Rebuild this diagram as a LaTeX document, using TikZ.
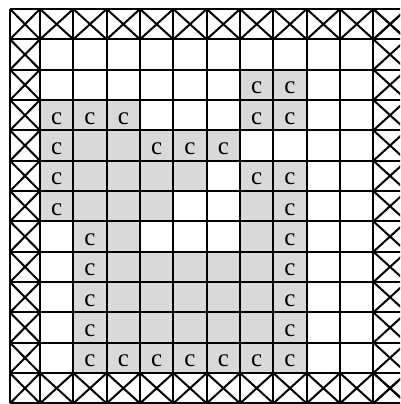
\documentclass[tikz,border=0pt]{standalone}
\usepackage{fontspec}
\setmainfont{Liberation Serif}

\tikzset{
  gitter/.style={line width=2.2pt},
  kreuz/.style={line width=2pt},
  grau/.style={fill=black!15},
  zeichen/.style={anchor=base, inner sep=0pt, font=\fontsize{25}{25}\selectfont},
}

\begin{document}
\begin{tikzpicture}[x=33.33pt, y=-30.33pt]
    \useasboundingbox (-0.2,-0.297) rectangle (11.8,13.02);
    \clip (-0.2,-0.297) rectangle (11.8,13.02);
    % graue Felder:
    \foreach \u/\v in {7/2,8/2, 1/3,2/3,3/3,7/3,8/3,
                       1/4,2/4,3/4,4/4,5/4,6/4,
                       1/5,2/5,3/5,4/5,5/5,7/5,8/5,
                       1/6,2/6,3/6,4/6,7/6,8/6,
                       2/7,3/7,7/7,8/7}
        \fill[grau] (\u,\v) rectangle ++(1,1);
    \foreach \v in {8,...,11}
        \fill[grau] (2,\v) rectangle (9,\v+1); % untere Zeilen
    % Gitterlinien:
    \foreach \u in {1,...,12}
        \draw[gitter] (\u,0) -- (\u,13);
    \draw[gitter] (0.1,0) -- (0.1,13); % linker Rand
    \foreach \v in {0,...,13}
        \draw[gitter] (0.1,\v) -- (12,\v);
    % Kreuze am Rand:
    \foreach \u in {1,...,11} {
        \draw[kreuz] (\u,0) -- ++(1,1) (\u,1) -- ++(1,-1); % oben
        \draw[kreuz] (\u,12) -- ++(1,1) (\u,13) -- ++(1,-1); % unten
    }
    \foreach \v in {0,...,12} {
        \draw[kreuz] (0.1,\v) -- (1,\v+1) (0.1,\v+1) -- (1,\v); % links
        \draw[kreuz] (11,\v) -- (12,\v+1) (11,\v+1) -- (12,\v); % rechts
    }
    % Buchstaben:
    \foreach \u/\v in {7/2,8/2, 1/3,2/3,3/3,7/3,8/3,
                       1/4,4/4,5/4,6/4, 1/5,7/5,8/5, 1/6,8/6,
                       2/7,8/7, 2/8,8/8, 2/9,8/9, 2/10,8/10,
                       2/11,3/11,4/11,5/11,6/11,7/11,8/11}
        \node[zeichen] (c-\u-\v) at (\u+0.5,\v+0.8) {c};
\end{tikzpicture}
\end{document}
